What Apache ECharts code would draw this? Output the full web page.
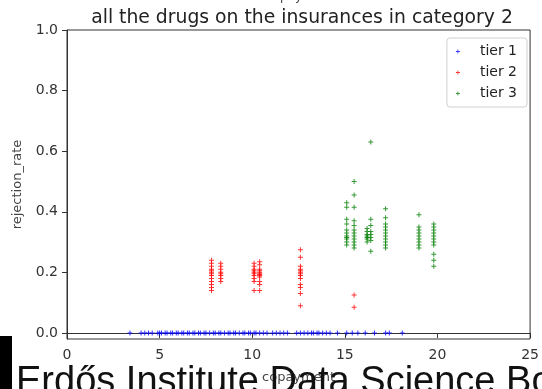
<!DOCTYPE html>
<html>
<head>
<meta charset="utf-8">
<script src="https://cdn.jsdelivr.net/npm/echarts@6/dist/echarts.min.js"></script>
<style>
  html, body { margin: 0; padding: 0; background: #fff; }
  #chart { width: 542px; height: 389px; }
</style>
</head>
<body>
<div id="chart"></div>
<script>
// Tier 1 drugs: every one of them sits at a rejection rate of 0
const tier1Copay = [3.4, 4.0, 4.2, 4.4, 4.6, 4.9, 5.0, 5.1, 5.3, 5.4, 5.6, 5.7, 5.9, 6.0, 6.2, 6.3,
  6.5, 6.6, 6.8, 6.9, 7.1, 7.2, 7.4, 7.5, 7.7, 7.9, 8.0, 8.2, 8.3, 8.5, 8.7, 8.8, 9.0, 9.1, 9.3,
  9.5, 9.6, 9.8, 9.9, 10.1, 10.2, 10.4, 10.6, 10.8, 11.1, 11.3, 11.5, 11.7, 11.9, 12.4, 12.6, 12.8,
  13.0, 13.2, 13.3, 13.5, 13.6, 13.8, 14.0, 14.2, 14.6, 15.1, 15.4, 15.7, 16.1, 16.6, 17.2, 17.4, 18.1];

// Tier 2 drugs, grouped by copayment column
const tier2Copay = [7.8, 8.3, 10.1, 10.4, 12.6, 15.5];
const tier2Rates = [
  [0.24, 0.23, 0.22, 0.21, 0.205, 0.2, 0.195, 0.19, 0.18, 0.17, 0.16, 0.15, 0.14],
  [0.23, 0.22, 0.21, 0.2, 0.195, 0.19, 0.18, 0.17],
  [0.23, 0.22, 0.21, 0.205, 0.2, 0.195, 0.19, 0.18, 0.17, 0.14],
  [0.235, 0.225, 0.21, 0.205, 0.2, 0.197, 0.193, 0.19, 0.185, 0.17, 0.16, 0.14],
  [0.275, 0.25, 0.22, 0.21, 0.205, 0.2, 0.195, 0.19, 0.18, 0.16, 0.15, 0.13, 0.09],
  [0.125, 0.085]
];

// Tier 3 drugs, grouped by copayment column
const tier3Copay = [15.1, 15.5, 16.2, 16.4, 17.2, 19.0, 19.8];
const tier3Rates = [
  [0.43, 0.415, 0.375, 0.36, 0.34, 0.33, 0.32, 0.315, 0.31, 0.3, 0.29],
  [0.5, 0.455, 0.415, 0.37, 0.355, 0.34, 0.33, 0.32, 0.31, 0.3, 0.29, 0.28],
  [0.345, 0.335, 0.325, 0.32, 0.315, 0.31, 0.3],
  [0.63, 0.375, 0.355, 0.335, 0.325, 0.315, 0.305, 0.27],
  [0.41, 0.38, 0.36, 0.35, 0.34, 0.33, 0.32, 0.31, 0.3, 0.29, 0.28],
  [0.39, 0.35, 0.34, 0.33, 0.32, 0.31, 0.3, 0.29, 0.28],
  [0.36, 0.35, 0.34, 0.33, 0.32, 0.31, 0.3, 0.29, 0.26, 0.24, 0.22]
];

const xTicks = [0, 5, 10, 15, 20, 25];
const yTicks = [0, 0.2, 0.4, 0.6, 0.8, 1.0];

const tierNames = ['tier 1', 'tier 2', 'tier 3'];
const tierColors = ['#0000ff', '#ff0000', '#008000'];

function columnsToPoints(copays, rates) {
  const pts = [];
  copays.forEach((c, i) => rates[i].forEach(r => pts.push([c, r])));
  return pts;
}

const tier1Points = tier1Copay.map(c => [c, 0]);
const tier2Points = columnsToPoints(tier2Copay, tier2Rates);
const tier3Points = columnsToPoints(tier3Copay, tier3Rates);

const plus = 'path://M4,0H6V4H10V6H6V10H4V6H0V4H4Z';
const baseFont = 'DejaVu Sans';

const chart = echarts.init(document.getElementById('chart'), null, { renderer: 'canvas' });

chart.setOption({
  animation: false,
  backgroundColor: '#fff',
  title: {
    text: 'all the drugs on the insurances in category 2',
    left: 297,
    textAlign: 'center',
    top: 4,
    textStyle: { fontFamily: baseFont, fontSize: 18.8, fontWeight: 'normal', color: '#222' }
  },
  grid: { left: 67, right: 11, top: 30, bottom: 45, show: true, borderColor: '#333', borderWidth: 1 },
  legend: {
    right: 15,
    top: 38,
    orient: 'vertical',
    data: tierNames,
    icon: plus,
    itemWidth: 4,
    itemHeight: 4,
    itemGap: 6,
    padding: [6, 10, 6, 9],
    borderColor: '#d0d0d0',
    borderWidth: 1,
    borderRadius: 3,
    backgroundColor: '#fff',
    textStyle: { fontFamily: baseFont, fontSize: 14, color: '#222', padding: [0, 0, 0, 15], lineHeight: 15 }
  },
  xAxis: {
    type: 'value',
    min: 0,
    max: 25,
    interval: 5,
    name: 'copayment',
    nameLocation: 'middle',
    nameGap: 32,
    nameTextStyle: { fontFamily: baseFont, fontSize: 13, color: '#444' },
    splitLine: { show: false },
    axisLine: { lineStyle: { color: '#333' } },
    axisTick: { length: 5, lineStyle: { color: '#333' }, customValues: xTicks },
    axisLabel: { fontFamily: baseFont, fontSize: 14, color: '#333', margin: 9, customValues: xTicks }
  },
  yAxis: {
    type: 'value',
    min: -0.02,
    max: 1.0,
    name: 'rejection_rate',
    nameLocation: 'middle',
    nameGap: 43,
    nameTextStyle: { fontFamily: baseFont, fontSize: 13, color: '#444' },
    splitLine: { show: false },
    axisLine: { show: true, lineStyle: { color: '#333' } },
    axisTick: { show: true, length: 5, lineStyle: { color: '#333' }, customValues: yTicks },
    axisLabel: {
      fontFamily: baseFont, fontSize: 14, color: '#333', margin: 9,
      customValues: yTicks,
      formatter: v => v.toFixed(1)
    }
  },
  series: [
    { name: tierNames[0], type: 'scatter', data: tier1Points, symbol: plus, symbolSize: 5, itemStyle: { color: tierColors[0] } },
    { name: tierNames[1], type: 'scatter', data: tier2Points, symbol: plus, symbolSize: 5, itemStyle: { color: tierColors[1] } },
    { name: tierNames[2], type: 'scatter', data: tier3Points, symbol: plus, symbolSize: 5, itemStyle: { color: tierColors[2] } }
  ],
  graphic: [
    // axis caption repeated above the title, mostly outside the canvas
    { type: 'text', left: 299 - 33, top: -9, z: 10,
      style: { text: 'copayment', font: '12px "DejaVu Sans"', fill: '#444' } },
    // banner text along the bottom edge
    { type: 'text', left: 16, top: 364, z: 5,
      style: { text: 'Erdős Institute Data Science Boot Camp', font: '38px "Liberation Sans"', fill: '#111' } },
    { type: 'rect', left: 0, top: 336, z: 5, shape: { width: 12, height: 53 }, style: { fill: '#000' } }
  ]
});
</script>
</body>
</html>
